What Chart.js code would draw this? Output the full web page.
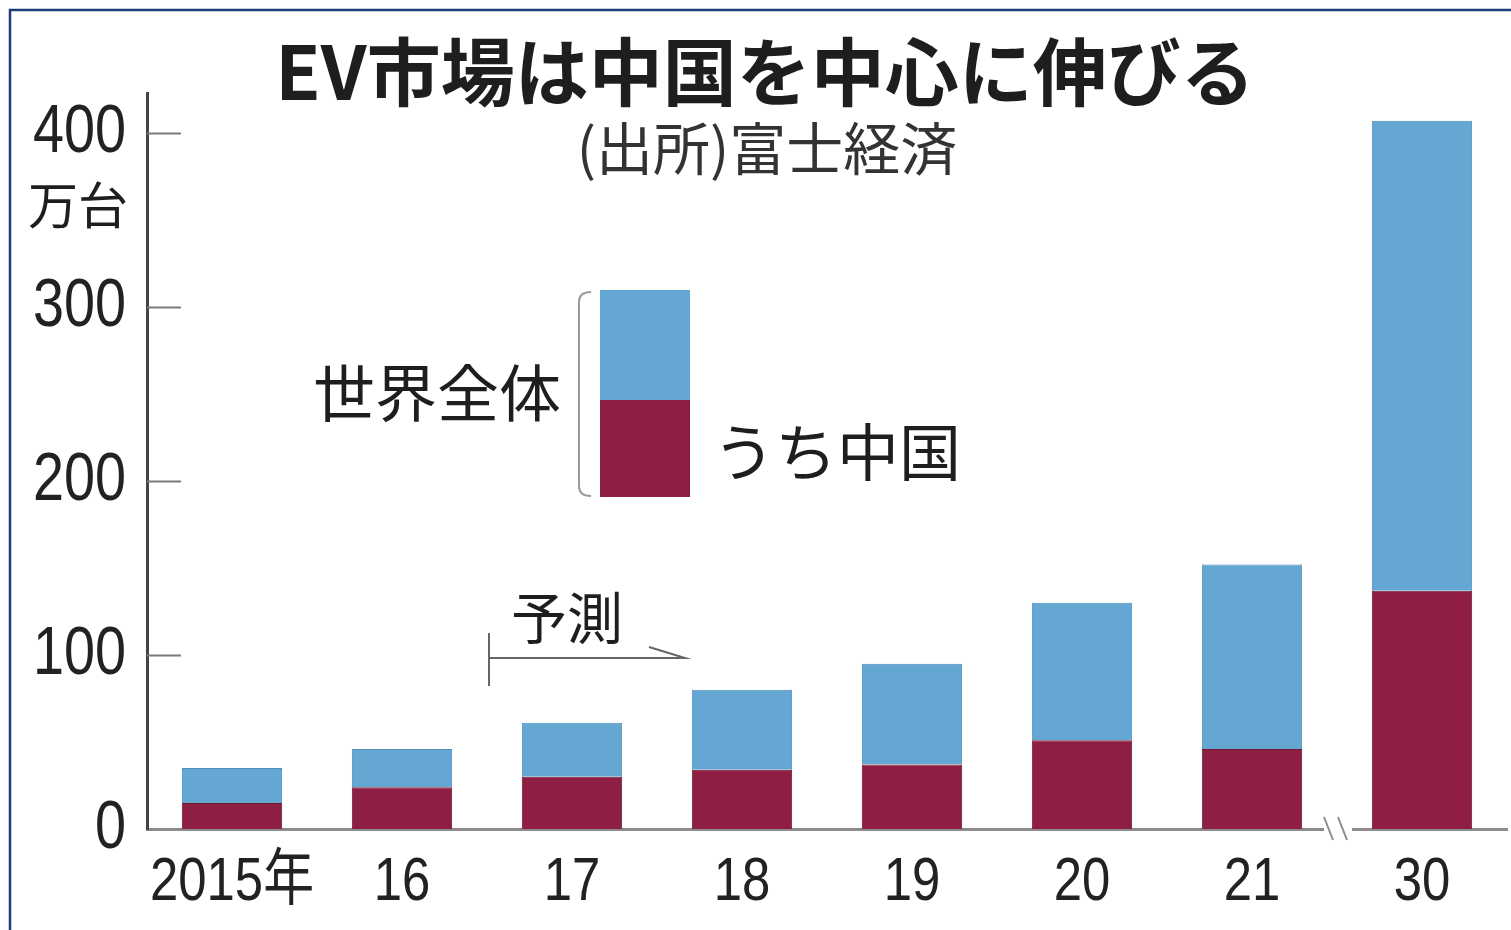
<!DOCTYPE html>
<html>
<head>
<meta charset="utf-8">
<script src="https://cdn.jsdelivr.net/npm/chart.js@4.4.1/dist/chart.umd.min.js"></script>
<style>
  html, body { margin: 0; padding: 0; background: #fff; }
  #wrap { width: 1511px; height: 930px; }
</style>
</head>
<body>
<div id="wrap"><canvas id="mycanvas"></canvas></div>
<script>
// values, 万台
var years = ['2015年', '16', '17', '18', '19', '20', '21', '30'];
var worldTotal = [35, 46, 61, 80, 95, 130, 152, 407];
var chinaTotal = [15, 24, 30, 34, 37, 51, 46, 137];
var yTicks = [0, 100, 200, 300, 400];

var BLUE = '#63a7d2';
var RED = '#8e1f42';
var SANS = "'Liberation Sans', Arial, 'Noto Sans CJK JP', sans-serif";
var CJK = "'Noto Sans CJK JP', sans-serif";

// blue part = world minus China, stacked on top of China
var restOfWorld = [];
for (var i in worldTotal) {
  restOfWorld.push(worldTotal[i] - chinaTotal[i]);
}

// tick labels in the original use a narrow face; squeeze each label around its anchor
function narrowLabels(scale) {
  if (scale._narrowed) return;
  scale._narrowed = true;
  var orig = scale.drawLabels;
  scale.drawLabels = function(area) {
    var c = this.ctx;
    var ft = c.fillText;
    c.fillText = function(t, x, y) {
      this.save();
      this.translate(x, y);
      this.scale(0.82, 1);
      ft.call(this, t, 0, 0);
      this.restore();
    };
    orig.call(this, area);
    delete c.fillText;
  };
}

var extras = {
  id: 'extras',
  beforeDraw: function(chart) {
    var ctx = chart.ctx;
    ctx.save();
    ctx.fillStyle = '#fff';
    ctx.fillRect(0, 0, chart.width, chart.height);
    ctx.restore();
    narrowLabels(chart.scales.x);
    narrowLabels(chart.scales.y);
  },
  afterDraw: function(chart) {
    var ctx = chart.ctx;
    var area = chart.chartArea;
    var x = chart.scales.x;
    var y = chart.scales.y;
    ctx.save();

    // outer frame (top and left only visible)
    ctx.strokeStyle = '#1d3b78';
    ctx.lineWidth = 2.5;
    ctx.beginPath();
    ctx.moveTo(10, chart.height);
    ctx.lineTo(10, 10);
    ctx.lineTo(chart.width, 10);
    ctx.stroke();

    // inward tick marks on the value axis
    ctx.strokeStyle = '#7a7a7a';
    ctx.lineWidth = 2;
    for (var t = 1; t < yTicks.length; t++) {
      var py = Math.round(y.getPixelForValue(yTicks[t])) + 0.5;
      ctx.beginPath();
      ctx.moveTo(area.left, py);
      ctx.lineTo(area.left + 34, py);
      ctx.stroke();
    }

    // axis break between 21 and 30
    var bx = (x.getPixelForValue(6) + x.getPixelForValue(7)) / 2;
    ctx.fillStyle = '#fff';
    ctx.fillRect(bx - 13, area.bottom - 3, 28, 6);
    ctx.strokeStyle = '#8c8c8c';
    ctx.lineWidth = 2;
    ctx.beginPath();
    ctx.moveTo(bx - 13, area.bottom - 12);
    ctx.lineTo(bx - 4, area.bottom + 11);
    ctx.moveTo(bx + 1, area.bottom - 12);
    ctx.lineTo(bx + 10, area.bottom + 11);
    ctx.stroke();

    // 予測 arrow starting between 16 and 17
    var ax = (x.getPixelForValue(1) + x.getPixelForValue(2)) / 2 + 2;
    ctx.strokeStyle = '#666';
    ctx.lineWidth = 2;
    ctx.beginPath();
    ctx.moveTo(ax, 633);
    ctx.lineTo(ax, 686);
    ctx.moveTo(ax, 658);
    ctx.lineTo(ax + 196, 658);
    ctx.lineTo(ax + 160, 647);
    ctx.stroke();

    ctx.fillStyle = '#1e1e1e';
    ctx.textBaseline = 'middle';
    ctx.textAlign = 'left';
    ctx.font = '56px ' + CJK;
    ctx.fillText('予測', 511, 618);

    // unit label
    ctx.font = '50px ' + CJK;
    ctx.fillText('万台', 28, 205);

    // legend key
    ctx.fillStyle = BLUE;
    ctx.fillRect(600, 290, 90, 110);
    ctx.fillStyle = RED;
    ctx.fillRect(600, 400, 90, 97);
    ctx.strokeStyle = '#9a9a9a';
    ctx.lineWidth = 2;
    ctx.beginPath();
    ctx.moveTo(591, 292);
    ctx.quadraticCurveTo(579, 292, 579, 302);
    ctx.lineTo(579, 486);
    ctx.quadraticCurveTo(579, 496, 591, 496);
    ctx.stroke();

    ctx.fillStyle = '#1e1e1e';
    ctx.font = '62px ' + CJK;
    ctx.textAlign = 'right';
    ctx.fillText('世界全体', 561, 393);
    ctx.textAlign = 'left';
    ctx.fillText('うち中国', 713, 452);

    // title and source
    ctx.textAlign = 'center';
    ctx.font = 'bold 70px ' + CJK;
    var title = 'EV市場は中国を中心に伸びる';
    var size = Math.round(70 * 980 / ctx.measureText(title).width);
    ctx.font = 'bold ' + size + 'px ' + CJK;
    ctx.fillText(title, 765, 72);

    ctx.fillStyle = '#333';
    ctx.font = '57px ' + CJK;
    ctx.fillText('(出所)富士経済', 767, 148);

    ctx.restore();
  }
};

var chartdata = {
  labels: years,
  datasets: [
    {
      label: 'うち中国',
      backgroundColor: RED,
      borderColor: '#6f1832',
      borderWidth: 1,
      data: chinaTotal
    },
    {
      label: '世界全体',
      backgroundColor: BLUE,
      borderColor: '#4f8dba',
      borderWidth: 1,
      data: restOfWorld
    }
  ]
};

var ctx = document.getElementById('mycanvas');

var BarGraph = new Chart(ctx, {
  type: 'bar',
  data: chartdata,
  plugins: [extras],
  options: {
    responsive: true,
    maintainAspectRatio: false,
    animation: false,
    layout: { padding: { top: 93, right: 4, left: 0, bottom: 0 } },
    plugins: {
      legend: { display: false },
      title: { display: false },
      tooltip: { enabled: false }
    },
    datasets: {
      bar: { categoryPercentage: 1, barPercentage: 0.59 }
    },
    scales: {
      x: {
        stacked: true,
        grid: { display: false, drawTicks: false },
        border: { display: true, color: '#8c8c8c', width: 3 },
        ticks: {
          color: '#222',
          padding: 17,
          maxRotation: 0,
          autoSkip: false,
          font: { family: SANS, size: 62 }
        },
        afterFit: function(scale) { scale.height = 101; }
      },
      y: {
        stacked: true,
        min: 0,
        max: 423,
        grid: { display: false, drawTicks: false },
        border: { display: true, color: '#444', width: 3 },
        ticks: {
          color: '#222',
          padding: 21,
          font: { family: SANS, size: 68 }
        },
        afterBuildTicks: function(scale) {
          scale.ticks = yTicks.map(function(v) { return { value: v }; });
        },
        afterFit: function(scale) { scale.width = 147; }
      }
    }
  }
});
</script>
</body>
</html>
